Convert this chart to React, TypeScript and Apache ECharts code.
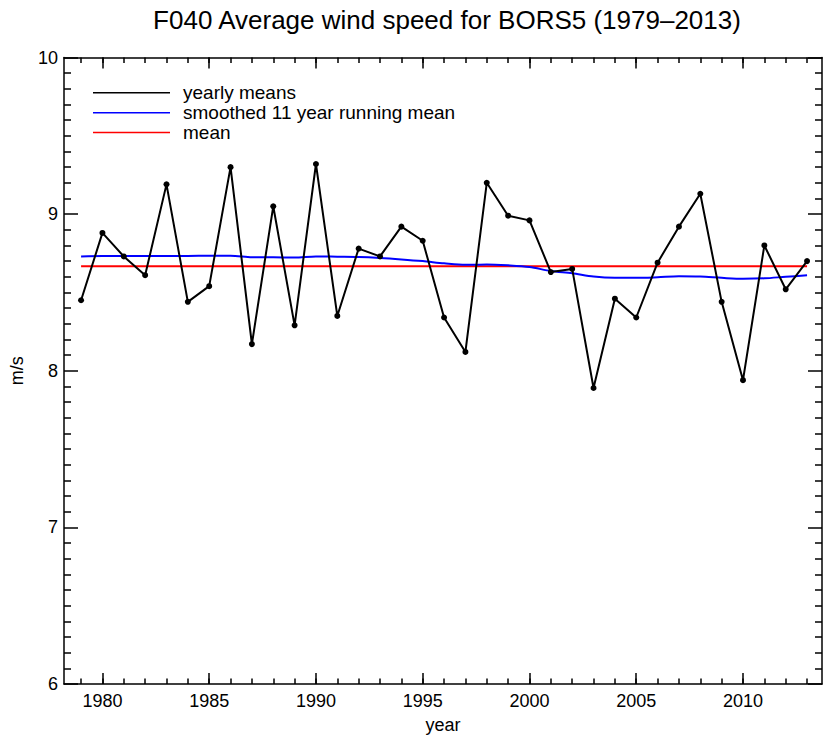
import React, { useEffect, useRef } from "react";
import * as echarts from "echarts";

const YEARS = [
  1979, 1980, 1981, 1982, 1983, 1984, 1985, 1986, 1987, 1988, 1989, 1990,
  1991, 1992, 1993, 1994, 1995, 1996, 1997, 1998, 1999, 2000, 2001, 2002,
  2003, 2004, 2005, 2006, 2007, 2008, 2009, 2010, 2011, 2012, 2013,
];
const YEARLY = [
  8.45, 8.88, 8.73, 8.61, 9.19, 8.44, 8.54, 9.3, 8.17, 9.05, 8.29, 9.32,
  8.35, 8.78, 8.73, 8.92, 8.83, 8.34, 8.12, 9.2, 8.99, 8.96, 8.63, 8.65,
  7.89, 8.46, 8.34, 8.69, 8.92, 9.13, 8.44, 7.94, 8.8, 8.52, 8.7,
];
const SMOOTHED = [
  8.73, 8.732, 8.732, 8.732, 8.732, 8.733, 8.734, 8.735, 8.725, 8.724, 8.723,
  8.73, 8.728, 8.726, 8.72, 8.711, 8.7, 8.686, 8.676, 8.679, 8.673, 8.662,
  8.637, 8.622, 8.601, 8.593, 8.593, 8.597, 8.603, 8.601, 8.593, 8.587, 8.59,
  8.6, 8.609,
];
const MEAN = 8.667;
const X_MAJOR = [1980, 1985, 1990, 1995, 2000, 2005, 2010];
const X_MIN = 1978.2;
const X_MAX = 2013.7;
const Y_MIN = 6;
const Y_MAX = 10;
const TITLE = "F040 Average wind speed for BORS5 (1979\u20132013)";
const LEGEND = ["yearly means", "smoothed 11 year running mean", "mean"];
const COLORS = ["#000000", "#0000ff", "#ff0000"];

const FONT = "'Liberation Sans', Arial, Helvetica, sans-serif";

export default function App() {
  const ref = useRef<HTMLDivElement>(null);
  useEffect(() => {
    if (!ref.current) return;
    const chart = echarts.init(ref.current, null, { renderer: "svg" });
    const axisLine = { show: true, lineStyle: { color: "#000", width: 1.5 } };
    const tickStyle = { color: "#000", width: 1.5 };
    const xCommon = {
      type: "value",
      min: X_MIN,
      max: X_MAX,
      splitLine: { show: false },
    };
    const xMajor = (pos: string, labels: boolean) => ({
      ...xCommon,
      position: pos,
      axisLine,
      axisTick: { show: true, inside: true, length: 11, customValues: X_MAJOR, lineStyle: tickStyle },
      axisLabel: labels
        ? {
            show: true,
            customValues: X_MAJOR,
            formatter: (v: number) => String(v),
            fontSize: 18,
            color: "#000",
            fontFamily: FONT,
            margin: 8,
          }
        : { show: false },
      ...(labels
        ? {
            name: "year",
            nameLocation: "middle",
            nameGap: 32,
            nameTextStyle: { fontSize: 18, color: "#000", fontFamily: FONT },
          }
        : {}),
    });
    const xMinor = (pos: string) => ({
      ...xCommon,
      position: pos,
      axisLine: { show: false },
      axisTick: { show: true, inside: true, length: 5.5, customValues: YEARS, lineStyle: tickStyle },
      axisLabel: { show: false },
    });
    const yAxis = (pos: string, labels: boolean) => ({
      type: "value",
      position: pos,
      min: Y_MIN,
      max: Y_MAX,
      interval: 1,
      axisLine,
      axisTick: { show: true, inside: true, length: 14, lineStyle: tickStyle },
      minorTick: { show: true, splitNumber: 10, length: 7, lineStyle: tickStyle },
      splitLine: { show: false },
      minorSplitLine: { show: false },
      axisLabel: labels
        ? { show: true, fontSize: 18, color: "#000", fontFamily: FONT, margin: 6 }
        : { show: false },
      ...(labels
        ? {
            name: "m/s",
            nameLocation: "middle",
            nameGap: 38,
            nameTextStyle: { fontSize: 18, color: "#000", fontFamily: FONT },
          }
        : {}),
    });

    const legendY = [92.7, 112.7, 132.5];
    const graphic: any[] = [];
    LEGEND.forEach((name, i) => {
      graphic.push({
        type: "line",
        shape: { x1: 93, y1: legendY[i], x2: 170, y2: legendY[i] },
        style: { stroke: COLORS[i], lineWidth: 1.5 },
      });
      graphic.push({
        type: "text",
        x: 183,
        y: legendY[i],
        style: {
          text: name,
          fill: "#000",
          font: `19px ${FONT}`,
          lineHeight: 19,
          verticalAlign: "middle",
          align: "left",
        },
      });
    });

    chart.setOption({
      animation: false,
      backgroundColor: "#fff",
      title: {
        text: TITLE,
        left: 442,
        textAlign: "center",
        top: 2,
        textStyle: { fontSize: 26, fontWeight: "normal", color: "#000", fontFamily: FONT },
      },
      grid: { left: 62, top: 57.5, right: 8, bottom: 57, containLabel: false },
      xAxis: [xMajor("bottom", true), xMinor("bottom"), xMajor("top", false), xMinor("top")],
      yAxis: [yAxis("left", true), yAxis("right", false)],
      graphic,
      series: [
        {
          name: LEGEND[2],
          type: "line",
          data: [
            [YEARS[0], MEAN],
            [YEARS[YEARS.length - 1], MEAN],
          ],
          showSymbol: false,
          symbol: "none",
          lineStyle: { color: COLORS[2], width: 2 },
          z: 2,
        },
        {
          name: LEGEND[1],
          type: "line",
          data: YEARS.map((y, i) => [y, SMOOTHED[i]]),
          symbol: "none",
          smooth: 0.3,
          lineStyle: { color: COLORS[1], width: 2 },
          z: 3,
        },
        {
          name: LEGEND[0],
          type: "line",
          data: YEARS.map((y, i) => [y, YEARLY[i]]),
          symbol: "circle",
          symbolSize: 6,
          itemStyle: { color: COLORS[0] },
          lineStyle: { color: COLORS[0], width: 2 },
          z: 4,
        },
      ],
    });
    return () => chart.dispose();
  }, []);
  return (
    <div
      ref={ref}
      style={{ position: "absolute", left: 0, top: 0, width: 830, height: 741 }}
    />
  );
}
